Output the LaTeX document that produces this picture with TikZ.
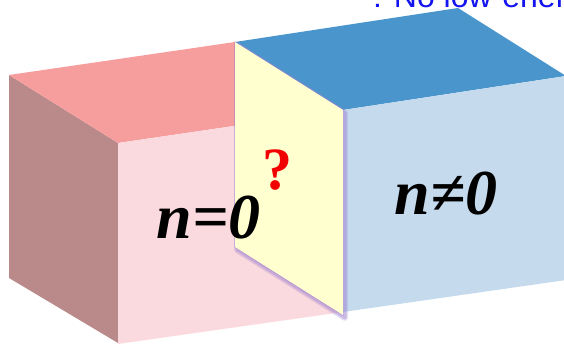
\documentclass[tikz,border=0pt]{standalone}
\usepackage{fontspec}
\setmainfont{Liberation Serif}
\newfontfamily\arialf{Liberation Sans}
\definecolor{pinkside}{RGB}{186,138,139}
\definecolor{pinktop}{RGB}{246,157,158}
\definecolor{pinkfront}{RGB}{250,218,222}
\definecolor{bluetop}{RGB}{74,150,204}
\definecolor{bluefront}{RGB}{197,218,237}
\definecolor{panel}{RGB}{255,255,208}
\definecolor{glow}{RGB}{160,130,210}
\definecolor{qred}{RGB}{240,0,0}
\definecolor{toptext}{RGB}{20,20,240}
\tikzset{
  face/.style={draw=none},
  biglabel/.style={font=\fontsize{64}{64}\selectfont\bfseries\itshape, text=black, inner sep=0pt},
}
\begin{document}
\begin{tikzpicture}[x=1pt,y=-1pt]
\useasboundingbox (0,0) rectangle (564,344);
\begin{scope}
\clip (0,0) rectangle (564,344);
% top text (cut off)
\node[anchor=base west, inner sep=0pt, text=toptext, font=\arialf\fontsize{32}{32}\selectfont] (tt) at (373,8) {: No low-energy};
% pink box
\fill[pinkside, face] (9,75) -- (118,143) -- (118,343) -- (9,278) -- cycle;
\fill[pinktop, face] (9,75) -- (235,42) -- (343,110) -- (118,143) -- cycle;
\fill[pinkfront, face] (118,143) -- (343,110) -- (343,312) -- (118,344) -- cycle;
% blue box
\fill[bluetop, face] (235,42) -- (458,8) -- (566,76) -- (343,110) -- cycle;
\fill[bluefront, face] (343,110) -- (566,76) -- (566,280) -- (343,312) -- cycle;
% yellow panel with glow / soft shadow
\begin{scope}[shift={(2,3)}]
\draw[glow, opacity=0.25, line width=6pt, line join=round] (235,42) -- (343,110) -- (343,315) -- (235,247) -- cycle;
\draw[glow, opacity=0.4, line width=3pt, line join=round] (235,42) -- (343,110) -- (343,315) -- (235,247) -- cycle;
\end{scope}
\draw[glow, opacity=0.5, line width=1.5pt, line join=round] (235,42) -- (343,110) -- (343,315) -- (235,247) -- cycle;
\fill[panel] (235,42) -- (343,110) -- (343,315) -- (235,247) -- cycle;
\end{scope}
% labels
\node[biglabel] (n0) at (208.5,218) {n=0};
\node[biglabel] (nn0) at (446,194) {n≠0};
\node[inner sep=0pt, text=qred, font=\fontsize{60}{60}\selectfont\bfseries] (q) at (277,170) {?};
\end{tikzpicture}
\end{document}
